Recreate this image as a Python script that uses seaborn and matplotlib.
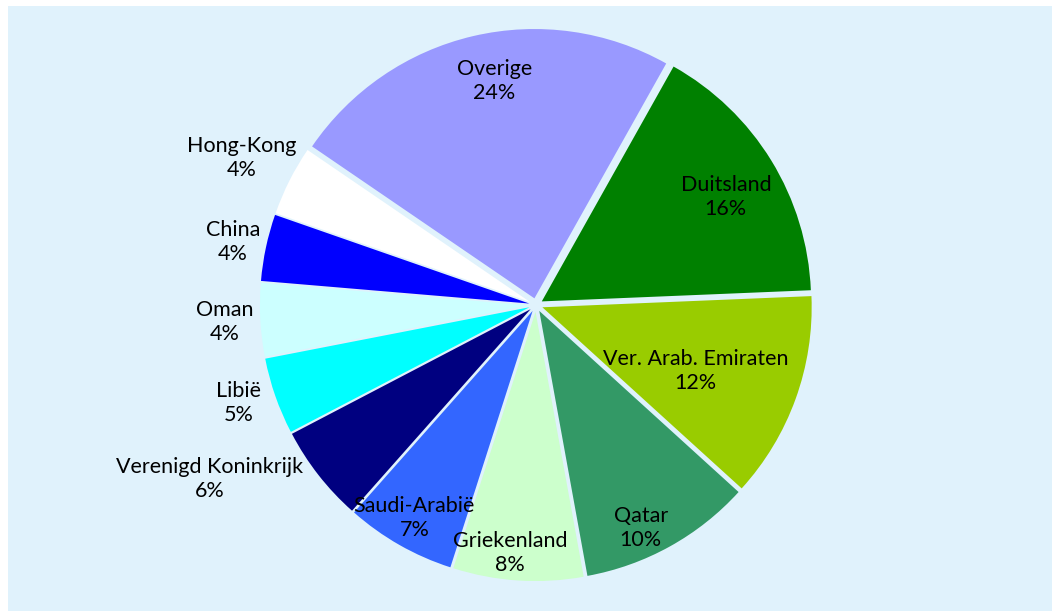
import numpy as np
import matplotlib
matplotlib.use('Agg')
import matplotlib.pyplot as plt
import seaborn as sns

# data (clockwise, starting at Duitsland)
landen = ['Duitsland', 'Ver. Arab. Emiraten', 'Qatar', 'Griekenland', 'Saudi-Arabië',
          'Verenigd Koninkrijk', 'Libië', 'Oman', 'China', 'Hong-Kong', 'Overige']
aandeel = [16.2, 12.4, 10.4, 7.8, 6.6, 5.8, 4.6, 4.4, 4.0, 4.2, 23.6]
kleuren = ['#008000', '#99CC00', '#339966', '#CCFFCC', '#3366FF',
           '#000080', '#00FFFF', '#CCFFFF', '#0000FF', '#FFFFFF', '#9999FF']

# label placement: radial distance and small angle shift (degrees, clockwise)
lab_r = [0.785, 0.625, 0.91, 0.93, 0.92, 1.38, 1.17, 1.16, 1.15, 1.22, 0.83]
lab_d = [2.0, 4.0, 5.0, 3.0, 0.5, 9.8, 0.7, -0.6, -1.0, -1.0, 1.5]
lab_c = (0.015, 0.011)  # label reference point relative to pie centre

sns.set_theme(style='white')
plt.rcParams['font.family'] = ['Lato', 'DejaVu Sans']

fig = plt.figure(figsize=(10.52, 6.11), dpi=100)
fig.patch.set_facecolor('white')
ax = fig.add_axes([8 / 1052, 0, 1 - 8 / 1052, 1 - 6 / 611])

start = 60.7
wedges, _ = ax.pie(aandeel, colors=kleuren, startangle=start, counterclock=False,
                   explode=[0.025] * len(aandeel), radius=0.99,
                   wedgeprops=dict(linewidth=0))

ax.set_frame_on(True)
for s in ax.spines.values():
    s.set_visible(False)
ax.set_facecolor('#E0F2FC')
ax.set_aspect('auto')
ax.set_xlim(-1.941, 1.897)
ax.set_ylim(-1.125, 1.099)
ax.set_xticks([])
ax.set_yticks([])

totaal = sum(aandeel)
for w, naam, v, r, d in zip(wedges, landen, aandeel, lab_r, lab_d):
    mid = np.deg2rad((w.theta1 + w.theta2) / 2 - d)
    x = lab_c[0] + r * np.cos(mid)
    y = lab_c[1] + r * np.sin(mid)
    ax.text(x, y, f'{naam}\n{round(v / totaal * 100)}%', ha='center', va='center',
            fontsize=15.5, color='black', linespacing=1.25)

fig.savefig('out.png', dpi=100, facecolor=fig.get_facecolor())
